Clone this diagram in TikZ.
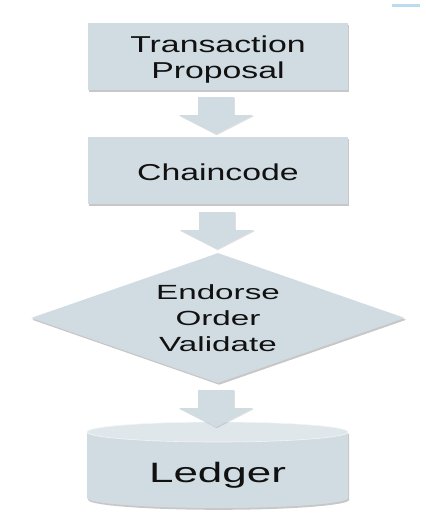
\documentclass[tikz,border=0pt]{standalone}
\usepackage{fontspec}
\setmainfont{Liberation Sans}
\newfontfamily\wideA[FakeStretch=1.47]{Liberation Sans}
\newfontfamily\wideB[FakeStretch=1.62]{Liberation Sans}
\newfontfamily\wideC[FakeStretch=1.57]{Liberation Sans}
\usetikzlibrary{shapes.geometric,shadows,calc}
\definecolor{boxfill}{HTML}{D1DCE2}
\definecolor{topfill}{HTML}{DFE7EB}
\definecolor{textc}{HTML}{111111}
\definecolor{barblue}{HTML}{BBDBEE}
\tikzset{
  softshadow/.style={drop shadow={shadow xshift=1.2pt, shadow yshift=-1.8pt, fill=black, opacity=0.22}},
  stepbox/.style={rectangle, fill=boxfill, softshadow, minimum width=260pt, minimum height=67pt,
    inner sep=0pt, align=center, text=textc, font=\wideA\fontsize{23}{25.6}\selectfont},
  decisionbox/.style={diamond, fill=boxfill, softshadow, minimum width=374pt, minimum height=130pt,
    aspect=2.88, inner sep=0pt, align=center, text=textc, font=\wideB\fontsize{20.5}{26}\selectfont},
  storelabel/.style={inner sep=0pt, text=textc, font=\wideC\fontsize{28}{30}\selectfont},
  blockarrow/.pic={\fill[boxfill, drop shadow={shadow xshift=0.8pt, shadow yshift=-1pt, fill=black, opacity=0.12}]
    (-18,0) -- (18,0) -- (18,18) -- (37,18) -- (0,37) -- (-37,18) -- (-18,18) -- cycle;}
}
\begin{document}
\begin{tikzpicture}[x=1pt,y=-1pt]
\useasboundingbox (0,0) rectangle (426,531);
\fill[barblue] (392,4) rectangle (420,7);
% boxes
\node[stepbox] (tp) at (218,56.5) {\rule{0pt}{22.5pt}Transaction\\Proposal};
\node[stepbox] (cc) at (218,170.5) {\rule{0pt}{20.5pt}Chaincode};
\node[decisionbox] (evo) at (218,318) {Endorse\\Order\\Validate};
% cylinder
\coordinate (cyl) at (217.5,465);
\fill[boxfill, softshadow] ($(cyl)+(-130.5,-33)$) -- ($(cyl)+(-130.5,33)$)
  arc[start angle=180, end angle=0, x radius=130.5, y radius=10] -- ($(cyl)+(130.5,-33)$) -- cycle;
\fill[topfill] ($(cyl)+(0,-33)$) ellipse [x radius=130.5, y radius=10];
\draw[white!70!boxfill, line width=0.6pt] ($(cyl)+(0,-33)$) ellipse [x radius=130.5, y radius=10];
\node[storelabel, text height=20pt, text depth=0pt] (ledger) at ($(cyl)+(0,7)$) {Ledger};
% block arrows between the steps
\pic at ($(tp.south)+(-2,7)$) {blockarrow};
\pic at ($(cc.south)+(-1,8)$) {blockarrow};
\pic at ($(evo.south)+(-2,7)$) {blockarrow};
\end{tikzpicture}
\end{document}
